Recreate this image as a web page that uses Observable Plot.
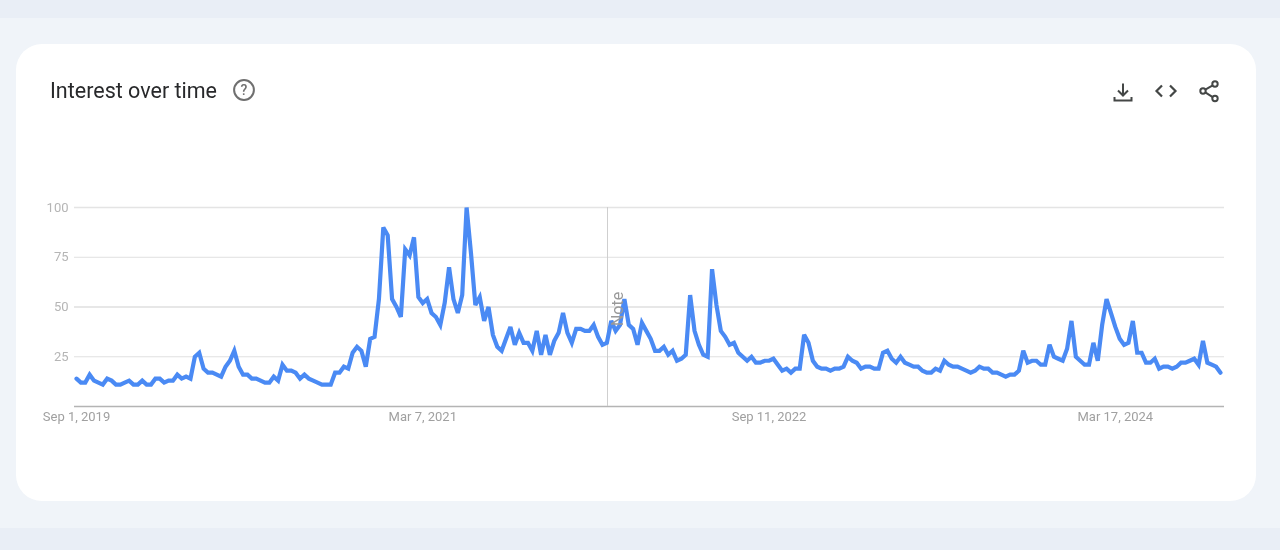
<!DOCTYPE html>
<html>
<head>
<meta charset="utf-8">
<script src="https://cdn.jsdelivr.net/npm/d3@7"></script>
<script src="https://cdn.jsdelivr.net/npm/@observablehq/plot@0.6"></script>
<style>
html,body{margin:0;padding:0;width:1280px;height:550px;overflow:hidden;background:#f0f4f9;font-family:Roboto,sans-serif}
.band{position:absolute;left:0;width:1280px;background:#e9eef6}
.card{position:absolute;left:16px;top:44px;width:1240px;height:457px;background:#fff;border-radius:26px}
.title{position:absolute;left:50px;top:77px;font:400 21.5px/28px Roboto,sans-serif;color:#28292b;will-change:transform}
.icon{position:absolute}
#chart{position:absolute;left:0;top:0;will-change:transform}
</style>
</head>
<body>
<div class="band" style="top:0;height:18px"></div>
<div class="band" style="top:528px;height:22px"></div>
<div class="card"></div>
<div id="chart"></div>
<div class="title">Interest over time</div>
<svg class="icon" style="left:232px;top:78px" width="24" height="24" viewBox="0 0 24 24"><circle cx="12" cy="12" r="9.9" fill="none" stroke="#6f6f6f" stroke-width="2"/><text x="12" y="17" text-anchor="middle" font-family="Roboto" font-size="14" font-weight="500" fill="#6f6f6f">?</text></svg>
<svg class="icon" style="left:1111px;top:80px" width="24" height="24" viewBox="0 0 24 24" fill="none" stroke="#444746" stroke-width="2"><path d="M12 3.5v12M7 10.5l5 5 5-5"/><path d="M3.5 17v3.5h17V17"/></svg>
<svg class="icon" style="left:1154px;top:79px" width="24" height="24" viewBox="0 0 24 24" fill="none" stroke="#444746" stroke-width="2.2"><path d="M8 6.5L2.5 12 8 17.5M16 6.5l5.500 5.500-5.500 5.500"/></svg>
<svg class="icon" style="left:1197px;top:79px" width="24" height="24" viewBox="0 0 24 24" fill="none" stroke="#444746" stroke-width="2"><circle cx="18" cy="5" r="2.700"/><circle cx="6" cy="12" r="2.700"/><circle cx="18" cy="19.500" r="2.700"/><path d="M8.300 10.600L15.700 6.400M8.300 13.400L15.700 18.100"/></svg>
<script>
const startDate = new Date(2019, 8, 1);
const interest = [
14,12,12,16,13,12,11,14,13,11,11,12,13,11,11,13,11,11,14,14,
12,13,13,16,14,15,14,25,27,19,17,17,16,15,20,23,28,20,16,16,
14,14,13,12,12,15,13,21,18,18,17,14,16,14,13,12,11,11,11,17,
17,20,19,27,30,28,20,34,35,54,90,86,54,50,45,79,76,85,55,52,
54,47,45,41,52,70,54,47,56,100,77,51,55,43,50,36,30,28,34,40,
31,37,32,32,28,38,26,36,26,33,37,47,37,32,39,39,38,38,41,35,
31,32,43,38,41,54,41,39,31,42,38,34,28,28,30,26,28,23,24,26,
56,38,31,26,25,69,51,38,35,31,32,27,25,23,25,22,22,23,23,24,
21,18,19,17,19,19,36,32,23,20,19,19,18,19,19,20,25,23,22,19,
20,20,19,19,27,28,24,22,25,22,21,20,20,18,17,17,19,18,23,21,
20,20,19,18,17,18,20,19,19,17,17,16,15,16,16,18,28,22,23,23,
21,21,31,25,24,23,29,43,25,23,21,21,32,23,41,54,47,40,34,31,
32,43,27,27,22,22,24,19,20,20,19,20,22,22,23,24,21,33,22,21,
20,17];
const yTicks = [25, 50, 75, 100];
const xTickDates = [new Date(2019,8,1), new Date(2021,2,7), new Date(2022,8,11), new Date(2024,2,17)];
const xTickLabels = ["Sep 1, 2019", "Mar 7, 2021", "Sep 11, 2022", "Mar 17, 2024"];
const noteDate = [new Date(2021,11,27)];
const noteLabel = "Note";
const noteY = 49;

const rows = interest.map((v, i) => ({date: d3.timeWeek.offset(startDate, i), value: v}));
const fmt = new Map(xTickDates.map((d, i) => [+d, xTickLabels[i]]));

const chart = Plot.plot({
  width: 1280, height: 550,
  marginLeft: 74, marginRight: 56, marginTop: 207, marginBottom: 144,
  style: {background: "transparent", fontFamily: "Roboto, sans-serif", fontSize: "13px"},
  x: {type: "time", domain: [rows[0].date, rows[rows.length - 1].date], insetLeft: 2, insetRight: 4, label: null},
  y: {domain: [0, 100], label: null},
  marks: [
    Plot.ruleY(yTicks, {stroke: "#e0e0e0", strokeWidth: 1}),
    Plot.ruleY([100], {stroke: "#e4e4e4", strokeWidth: 1.5}),
    Plot.ruleY([50], {stroke: "#e4e4e4", strokeWidth: 1.5}),
    Plot.ruleY([0], {stroke: "#b4b4b4", strokeWidth: 1.5}),
    Plot.ruleX(noteDate, {y1: 0, y2: 100, stroke: "#cfcfcf", strokeWidth: 1}),
    Plot.line(rows, {x: "date", y: "value", stroke: "#4a8af4", strokeWidth: 4.2, strokeLinejoin: "miter", strokeMiterlimit: 3, clip: true}),
    Plot.text(noteDate, {x: d => d, y: () => noteY, text: () => noteLabel, rotate: -90, dx: 10, fontSize: 16, fill: "#999999"}),
    Plot.axisY({ticks: yTicks, tickSize: 0, tickPadding: 6, fill: "#b5b5b5", fontSize: 13, label: null}),
    Plot.axisX({ticks: xTickDates, tickSize: 0, tickPadding: 5, tickFormat: d => fmt.get(+d), fill: "#a0a0a0", fontSize: 13, label: null, textAnchor: "middle"})
  ]
});
document.getElementById("chart").appendChild(chart);
</script>
</body>
</html>
